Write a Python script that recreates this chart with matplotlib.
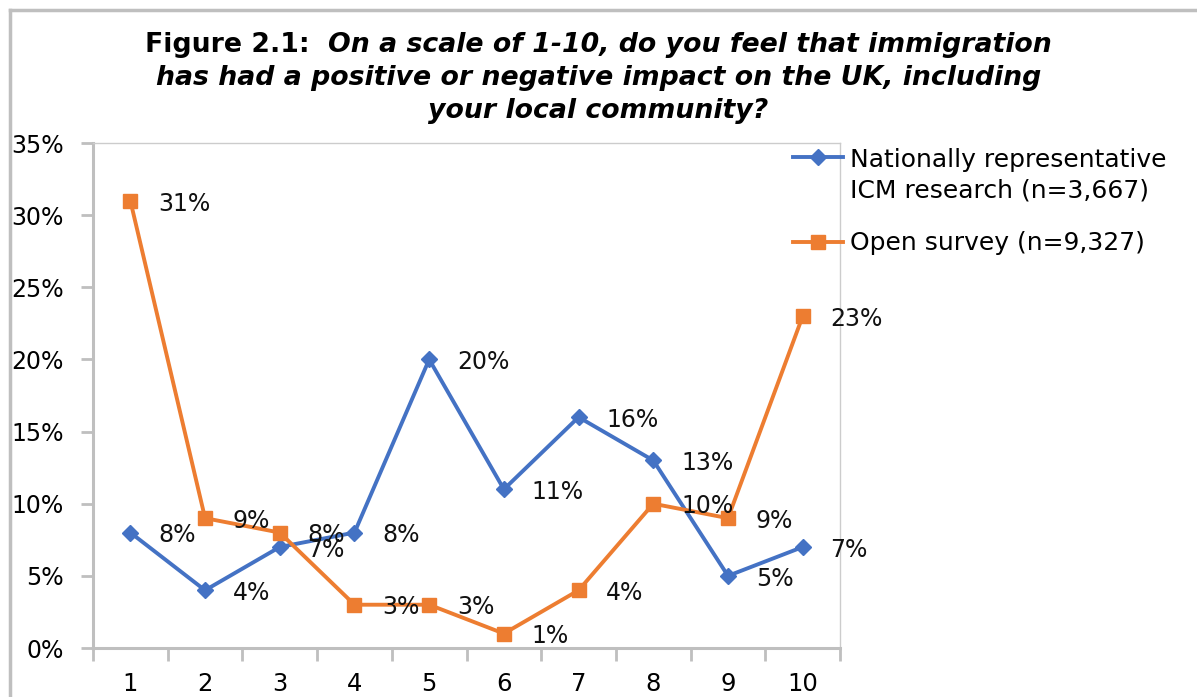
import matplotlib
matplotlib.use("Agg")
import matplotlib.pyplot as plt
from matplotlib.lines import Line2D
import numpy as np

# survey answers on the 1-10 scale, share of respondents (%)
scale = ["1", "2", "3", "4", "5", "6", "7", "8", "9", "10"]
icm = [8, 4, 7, 8, 20, 11, 16, 13, 5, 7]
open_survey = [31, 9, 8, 3, 3, 1, 4, 10, 9, 23]
icm_label = ["Nationally representative", "ICM research (n=3,667)"]
open_label = "Open survey (n=9,327)"

blue = "#4472C4"
orange = "#ED7D31"
grey = "#bfbfbf"

plt.rcParams["font.family"] = "DejaVu Sans"

fig = plt.figure(figsize=(11.97, 6.97), dpi=100)
ax = fig.add_axes([0.0777, 0.0703, 0.6241, 0.7245])

x = np.arange(len(scale))
blue_style = dict(color=blue, lw=2.8, marker="D", ms=8)
orange_style = dict(color=orange, lw=2.8, marker="s", ms=10)
ax.plot(x, icm, **blue_style)
ax.plot(x, open_survey, **orange_style)

# value labels to the right of each point
for series in (icm, open_survey):
    for xi, v in zip(x, series):
        ax.annotate(f"{v}%", (xi, v), xytext=(20, -2), textcoords="offset points",
                    ha="left", va="center", fontsize=17, color="#111111")

ax.set_xlim(-0.5, len(scale) - 0.5)
ax.set_ylim(0, 35)
ax.set_yticks(np.arange(0, 36, 5))
ax.set_yticklabels([f"{v}%" for v in range(0, 36, 5)], fontsize=17)
ax.set_xticks(x)
ax.set_xticklabels(scale, fontsize=17.5)
ax.set_xticks(np.arange(-0.5, len(scale)), minor=True)
ax.tick_params(axis="x", which="major", length=0, pad=17)
ax.tick_params(axis="x", which="minor", length=9, width=2, color=grey, direction="out")
ax.tick_params(axis="y", length=9, width=2, color=grey, pad=12)

for side in ["left", "bottom"]:
    ax.spines[side].set_color(grey)
    ax.spines[side].set_linewidth(2.2)
for side in ["top", "right"]:
    ax.spines[side].set_color("#cccccc")
    ax.spines[side].set_linewidth(1)

# title: bold lead-in, then bold italic question
tsize = 19.3
r = fig.canvas.get_renderer()
t1 = fig.text(0, 0.935, "Figure 2.1:  ", fontsize=tsize, fontweight="bold", va="center", ha="left")
t2 = fig.text(0, 0.935, "On a scale of 1-10, do you feel that immigration", fontsize=tsize,
              fontweight="bold", style="italic", va="center", ha="left")
w1 = t1.get_window_extent(r).width
w2 = t2.get_window_extent(r).width
x0 = 0.5 - (w1 + w2) / 2 / fig.bbox.width
t1.set_x(x0)
t2.set_x(x0 + w1 / fig.bbox.width)
fig.text(0.5, 0.888, "has had a positive or negative impact on the UK, including", fontsize=tsize,
         fontweight="bold", style="italic", va="center", ha="center")
fig.text(0.5, 0.841, "your local community?", fontsize=tsize,
         fontweight="bold", style="italic", va="center", ha="center")

# legend, handle aligned with the first text line
hx = [0.6625, 0.7043]
fig.add_artist(Line2D(hx, [0.7747] * 2, transform=fig.transFigure, markevery=[], **blue_style))
fig.add_artist(Line2D([sum(hx) / 2], [0.7747], transform=fig.transFigure, **blue_style))
fig.add_artist(Line2D(hx, [0.6528] * 2, transform=fig.transFigure, markevery=[], **orange_style))
fig.add_artist(Line2D([sum(hx) / 2], [0.6528], transform=fig.transFigure, **orange_style))
fig.text(0.7101, 0.7704, icm_label[0], fontsize=18, va="center", ha="left")
fig.text(0.7101, 0.7274, icm_label[1], fontsize=18, va="center", ha="left")
fig.text(0.7101, 0.6514, open_label, fontsize=18, va="center", ha="left")

# outer chart frame
fig.add_artist(Line2D([0.008, 0.008], [0, 0.986], transform=fig.transFigure, color=grey, lw=2.5))
fig.add_artist(Line2D([0.008, 1], [0.986, 0.986], transform=fig.transFigure, color=grey, lw=2.5))

fig.savefig("out.png", dpi=100)
